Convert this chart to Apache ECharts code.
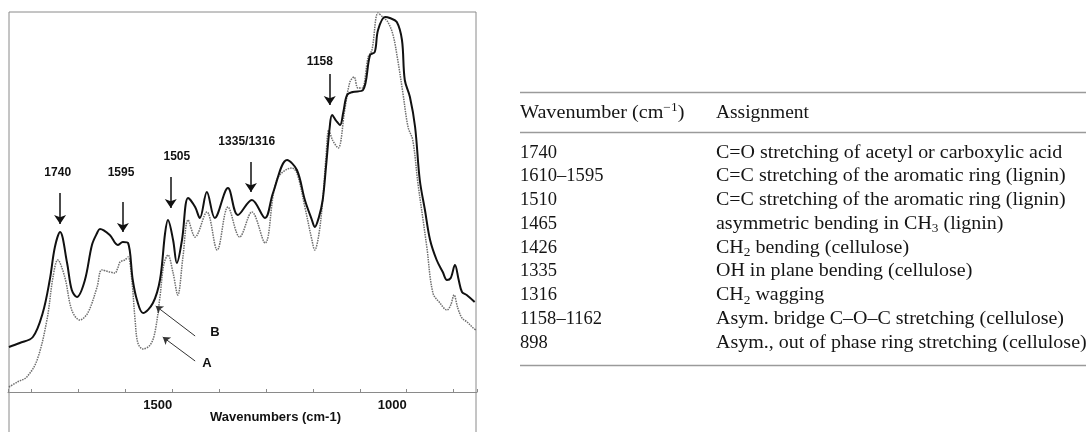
<!DOCTYPE html>
<html>
<head>
<meta charset="utf-8">
<script src="https://cdn.jsdelivr.net/npm/echarts@6/dist/echarts.min.js"></script>
<style>
  html, body { margin: 0; padding: 0; background: #fff; }
  #main { width: 1089px; height: 432px; }
</style>
</head>
<body>
<div id="main"></div>
<script>
// FTIR spectra, [wavenumber cm-1, absorbance (arb.)]
var specB = [
  [1848, 45], [1825, 49], [1797, 55], [1776, 79], [1761, 112], [1750, 145], [1739, 160],
  [1724, 129], [1714, 102], [1703, 95], [1686, 112], [1671, 147], [1660, 159], [1654, 163],
  [1633, 157], [1616, 147], [1605, 150], [1594, 149], [1584, 112], [1575, 92], [1562, 79],
  [1541, 89], [1526, 112], [1515, 159], [1509, 172], [1498, 152], [1490, 129], [1479, 152],
  [1466, 194], [1451, 185], [1441, 174], [1426, 200], [1409, 174], [1381, 204], [1360, 177],
  [1330, 192], [1302, 174], [1285, 199], [1255, 232], [1234, 222], [1217, 192], [1202, 172],
  [1196, 165], [1187, 175], [1179, 192], [1172, 225], [1164, 265], [1159, 277], [1150, 271],
  [1142, 267], [1135, 280], [1127, 297], [1115, 300], [1093, 302], [1078, 337], [1068, 340],
  [1061, 362], [1046, 375], [1036, 374], [1021, 370], [1010, 352], [1004, 312], [993, 295],
  [982, 265], [972, 212], [961, 182], [950, 152], [936, 132], [923, 120], [914, 112],
  [906, 114], [897, 127], [889, 112], [882, 100], [872, 97], [855, 90]
]
var specA = [
  [1848, 5], [1830, 10], [1810, 15], [1788, 32], [1767, 72], [1754, 115], [1744, 132],
  [1729, 115], [1714, 82], [1697, 72], [1680, 79], [1660, 105], [1650, 122], [1633, 120],
  [1622, 119], [1616, 124], [1611, 130], [1601, 132], [1594, 135], [1586, 112], [1579, 72],
  [1573, 49], [1562, 43], [1547, 47], [1537, 59], [1526, 95], [1518, 127], [1509, 137],
  [1498, 119], [1488, 97], [1477, 135], [1466, 172], [1451, 155], [1426, 180], [1404, 142],
  [1381, 185], [1356, 155], [1330, 180], [1302, 149], [1277, 212], [1245, 224], [1234, 219],
  [1217, 185], [1202, 152], [1196, 142], [1187, 158], [1179, 192], [1172, 235], [1166, 262],
  [1158, 252], [1146, 244], [1132, 282], [1121, 310], [1112, 315], [1104, 304], [1095, 304],
  [1082, 335], [1074, 342], [1061, 379], [1051, 375], [1040, 370], [1029, 357], [1019, 332],
  [1008, 299], [997, 265], [987, 252], [976, 209], [965, 172], [957, 145], [944, 99],
  [929, 89], [914, 82], [906, 87], [899, 97], [891, 84], [882, 74], [871, 70], [858, 64], [852, 62]
]
var xTickLabels = [1500, 1000]

// band labels on the plot
var peakNames = ['1740', '1595', '1505', '1335/1316', '1158']

// table on the right
var tableHead = ['Wavenumber (cm{sup|\u22121})', 'Assignment']
var tableWn = ['1740', '1610\u20131595', '1510', '1465', '1426', '1335', '1316', '1158\u20131162', '898']
var tableAssign = [
  'C=O stretching of acetyl or carboxylic acid',
  'C=C stretching of the aromatic ring (lignin)',
  'C=C stretching of the aromatic ring (lignin)',
  'asymmetric bending in CH{sub|3} (lignin)',
  'CH{sub|2} bending (cellulose)',
  'OH in plane bending (cellulose)',
  'CH{sub|2} wagging',
  'Asym. bridge C\u2013O\u2013C stretching (cellulose)',
  'Asym., out of phase ring stretching (cellulose)'
]

// annotation placement (data coords): arrow x, arrow top, arrow tip, label x, label y
var notes = [
  { x: 1739, top: 199, tip: 168, lx: 1744, ly: 219 },
  { x: 1605, top: 190, tip: 160, lx: 1609, ly: 219 },
  { x: 1503, top: 215, tip: 184, lx: 1490, ly: 235 },
  { x: 1332, top: 230, tip: 200, lx: 1341, ly: 250 },
  { x: 1164, top: 318, tip: 287, lx: 1185, ly: 330 }
]

var sans = '"Liberation Sans", Arial, sans-serif'
var serif = '"Liberation Serif", "Times New Roman", serif'

var arrowLines = notes.map(function (n) {
  return [{ coord: [n.x, n.top] }, { coord: [n.x, n.tip] }]
})
var peakText = notes.map(function (n, i) {
  return { coord: [n.lx, n.ly], name: peakNames[i] }
})

var chartDom = document.getElementById('main')
var myChart = echarts.init(chartDom)

var graphics = []
// frame around the plot (runs off the bottom of the picture)
graphics.push({
  type: 'rect', shape: { x: 9, y: 12, width: 467, height: 440 },
  style: { fill: 'none', stroke: '#8a8a8a', lineWidth: 1 }, silent: true
})
graphics.push({
  type: 'text', x: 210, y: 417,
  style: { text: 'Wavenumbers (cm-1)', font: 'bold 13px ' + sans, fill: '#111', verticalAlign: 'middle' }
})

// table rules
;[92.5, 132.5, 365.5].forEach(function (y) {
  graphics.push({
    type: 'line', shape: { x1: 520, y1: y, x2: 1086, y2: y },
    style: { stroke: '#9a9a9a', lineWidth: 1.5 }, silent: true
  })
})
var rich = {
  sub: { fontSize: 12, fontFamily: serif, verticalAlign: 'bottom', lineHeight: 10, fill: '#151515' },
  sup: { fontSize: 12, fontFamily: serif, verticalAlign: 'top', lineHeight: 10, fill: '#151515' }
}
// the printed serif is a little wider than Liberation Serif, so stretch it
function cell(x, y, txt, sx) {
  return {
    type: 'text', x: x, y: y, scaleX: sx,
    style: {
      text: txt, fontSize: 18, fontFamily: serif, fill: '#151515',
      lineHeight: 22, verticalAlign: 'middle', rich: rich
    }
  }
}
graphics.push(cell(520, 113, tableHead[0], 1.12))
graphics.push(cell(716, 113, tableHead[1], 1.08))
tableWn.forEach(function (w, i) {
  var y = 153 + i * 23.75
  graphics.push(cell(520, y, w, 1.03))
  graphics.push(cell(716, y, tableAssign[i], 1.11))
})

var option = {
  animation: false,
  backgroundColor: '#fff',
  grid: { left: 8, right: 612, top: 12, bottom: 40 },
  xAxis: {
    type: 'value',
    inverse: true,
    min: 850,
    max: 1850,
    splitNumber: 10,
    axisLine: { lineStyle: { color: '#8a8a8a', width: 1 } },
    axisTick: { inside: true, length: 3, lineStyle: { color: '#8a8a8a' } },
    axisLabel: {
      margin: 7,
      align: 'right',
      color: '#111',
      fontFamily: sans,
      fontWeight: 'bold',
      fontSize: 13,
      formatter: function (v) {
        return xTickLabels.indexOf(v) >= 0 ? String(v) : ''
      }
    },
    splitLine: { show: false }
  },
  yAxis: {
    type: 'value', min: 0, max: 380, show: false
  },
  series: [
    {
      name: 'A',
      type: 'line',
      data: specA,
      smooth: 0.35,
      symbol: 'none',
      lineStyle: { color: '#6e6e6e', width: 1.5, type: [1.5, 1] },
      markLine: {
        silent: true,
        symbol: ['none', 'arrow'],
        symbolSize: 7,
        label: { show: false },
        lineStyle: { color: '#333', width: 1, type: 'solid' },
        data: [
          [{ coord: [1451, 56] }, { coord: [1535, 86] }],
          [{ coord: [1451, 31] }, { coord: [1520, 55] }]
        ]
      },
      markPoint: {
        silent: true,
        symbol: 'rect',
        symbolSize: 1,
        itemStyle: { color: 'rgba(0,0,0,0)' },
        label: {
          show: true, position: 'inside', formatter: '{b}',
          color: '#111', fontFamily: sans, fontWeight: 'bold', fontSize: 13
        },
        data: [
          { coord: [1409, 60], name: 'B' },
          { coord: [1426, 29], name: 'A' }
        ]
      }
    },
    {
      name: 'B',
      type: 'line',
      data: specB,
      smooth: 0.35,
      symbol: 'none',
      lineStyle: { color: '#111', width: 2 },
      markLine: {
        silent: true,
        symbol: ['none', 'arrow'],
        symbolSize: 9,
        label: { show: false },
        lineStyle: { color: '#111', width: 1.5, type: 'solid' },
        data: arrowLines
      },
      markPoint: {
        silent: true,
        symbol: 'rect',
        symbolSize: 1,
        itemStyle: { color: 'rgba(0,0,0,0)' },
        label: {
          show: true, position: 'inside', formatter: '{b}',
          color: '#111', fontFamily: sans, fontWeight: 'bold', fontSize: 12
        },
        data: peakText
      }
    }
  ],
  graphic: graphics
}

option && myChart.setOption(option)
</script>
</body>
</html>
